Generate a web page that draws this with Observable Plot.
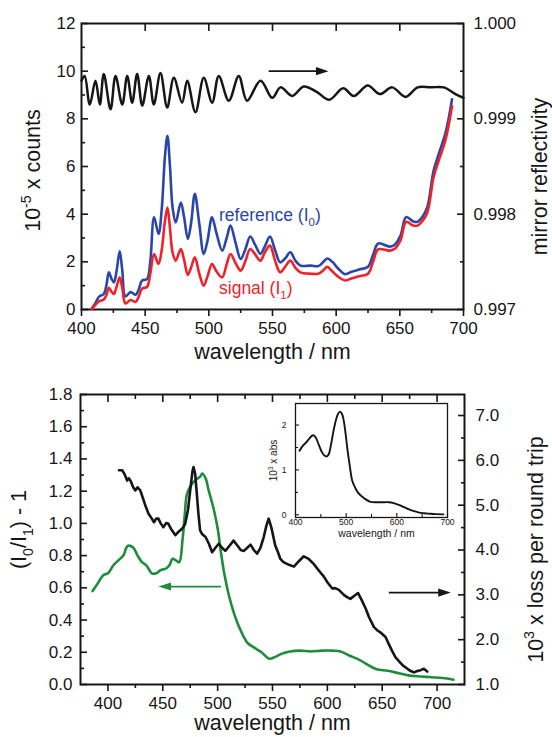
<!DOCTYPE html>
<html>
<head>
<meta charset="utf-8">
<script src="https://cdn.jsdelivr.net/npm/d3@7"></script>
<script src="https://cdn.jsdelivr.net/npm/@observablehq/plot@0.6"></script>
<style>
  html, body { margin: 0; padding: 0; background: #fff; }
  #wrap { position: relative; width: 552px; height: 737px; overflow: hidden; background: #fff; }
</style>
</head>
<body>
<div id="wrap"></div>
<script>
// ================= DATA =================
// --- top panel: counts (10^-5 x counts) vs wavelength (nm)
const countWavelength = [408, 411, 414, 417.5, 419.5, 421.5, 423.5, 425.5, 427.5, 430, 432, 434.5, 438.5, 442.5, 445, 447.5, 451.5, 454, 457, 460.5, 463, 465.5, 467.5, 469.5, 471.5, 474, 478, 480.5, 483.5, 486, 489, 492.5, 496, 499, 502.5, 506, 510.5, 514, 517, 521, 525, 528.5, 532.5, 536.5, 540.5, 544, 548, 552, 556, 560, 564, 568, 572, 580, 586, 590, 593, 597, 601, 607, 612, 618, 625, 629, 633, 642, 646, 650.5, 655, 660.5, 664, 667.5, 671.5, 676.5, 680.5, 686, 691];
const referenceCounts = [0.03, 0.28, 0.55, 0.65, 1.0, 1.56, 1.3, 1.14, 1.6, 2.44, 1.65, 0.55, 0.73, 0.62, 0.85, 1.21, 1.28, 2.0, 3.87, 3.17, 4.2, 6.4, 7.29, 6.0, 4.3, 3.65, 4.49, 3.9, 2.96, 3.6, 4.85, 3.6, 2.33, 2.9, 3.87, 3.2, 2.47, 3.0, 3.52, 2.8, 2.12, 2.5, 3.06, 2.7, 2.33, 2.65, 3.06, 2.5, 1.98, 2.15, 2.4, 2.05, 1.84, 1.84, 1.82, 2.0, 2.14, 2.0, 1.75, 1.48, 1.58, 1.68, 1.79, 2.3, 2.77, 2.64, 2.72, 3.1, 3.88, 3.69, 3.68, 3.87, 4.28, 5.82, 6.52, 7.43, 8.82];
const signalCounts = [0.03, 0.2, 0.35, 0.42, 0.6, 0.91, 0.75, 0.65, 0.95, 1.35, 0.9, 0.25, 0.4, 0.32, 0.55, 0.87, 0.95, 1.5, 2.33, 1.91, 2.5, 3.7, 4.28, 3.4, 2.4, 2.05, 2.54, 2.1, 1.45, 1.75, 2.19, 1.5, 1.0, 1.4, 1.91, 1.6, 1.35, 1.9, 2.33, 1.95, 1.63, 2.0, 2.54, 2.3, 2.05, 2.4, 2.68, 2.05, 1.56, 1.8, 2.05, 1.75, 1.56, 1.5, 1.5, 1.65, 1.79, 1.6, 1.4, 1.22, 1.3, 1.39, 1.5, 2.0, 2.52, 2.47, 2.55, 2.9, 3.68, 3.52, 3.52, 3.7, 4.05, 5.55, 6.24, 7.15, 8.54];

// --- top panel: mirror reflectivity vs wavelength
const mirrorWavelength = [400, 402.5, 406.5, 411, 414.4, 417.5, 422.8, 426.7, 432, 435.9, 439.8, 443.7, 447.7, 452.9, 456.8, 462, 467.3, 472.5, 479, 483, 489.5, 496, 502.6, 507.8, 515.7, 523.5, 530, 540.6, 549.8, 556.3, 565.5, 574.6, 585, 594.5, 605.5, 613.8, 624.8, 634.4, 644, 654.5, 664, 674, 684.6, 693.7, 700];
const mirrorReflectivity = [0.99940, 0.99945, 0.99915, 0.99940, 0.99915, 0.99947, 0.99910, 0.99945, 0.99915, 0.99945, 0.99917, 0.99947, 0.99914, 0.99945, 0.99915, 0.99948, 0.99912, 0.99943, 0.99917, 0.99940, 0.99907, 0.99943, 0.99917, 0.99945, 0.99919, 0.99945, 0.99919, 0.99940, 0.99922, 0.99933, 0.99924, 0.99934, 0.99928, 0.99920, 0.99932, 0.99924, 0.99935, 0.99926, 0.99933, 0.99923, 0.99933, 0.99933, 0.99933, 0.99926, 0.99922];

// --- bottom panel: (I0/I1) - 1 vs wavelength
const ratioWavelength = [386, 390, 396, 400, 405, 411, 414, 418, 423, 427, 431, 435, 440, 444, 448, 453, 456, 459, 462, 465, 468, 470, 472, 476, 480, 484, 486, 489, 492, 496, 500, 503, 506, 510, 515, 520, 527, 533, 540, 547, 552, 558, 566, 575, 585, 595, 605, 612, 620, 630, 640, 645, 655, 665, 675, 685, 695, 705, 715];
const ratioValue = [0.58, 0.62, 0.68, 0.69, 0.74, 0.78, 0.80, 0.86, 0.85, 0.80, 0.76, 0.74, 0.69, 0.69, 0.71, 0.72, 0.74, 0.78, 0.77, 0.76, 0.90, 1.05, 1.18, 1.24, 1.27, 1.29, 1.31, 1.28, 1.20, 1.10, 0.97, 0.82, 0.69, 0.56, 0.44, 0.35, 0.26, 0.23, 0.20, 0.16, 0.17, 0.19, 0.205, 0.21, 0.205, 0.21, 0.21, 0.205, 0.18, 0.15, 0.11, 0.095, 0.085, 0.07, 0.055, 0.05, 0.045, 0.04, 0.03];

// --- bottom panel: 10^3 x loss per round trip vs wavelength
const lossWavelength = [410, 413, 415, 417.5, 419, 420.5, 423, 425, 427, 429.5, 432, 434, 437, 440, 442, 444, 446, 448, 450.5, 453, 455, 458, 461.5, 464, 466, 468.5, 470.5, 473, 475, 477, 478, 479.5, 481, 482.5, 484, 486, 489, 492, 495, 498, 501, 504, 507, 511, 514.5, 518, 521, 524, 527, 530, 533, 536, 539, 542, 544.5, 546.5, 549, 552.5, 555, 557, 560, 565, 569.5, 574, 578.5, 583, 587.5, 592, 597, 600, 604.5, 607, 610.5, 615, 618, 621, 624, 628, 631, 635, 638, 642.5, 646, 649, 653, 656, 659, 662, 666, 669, 673, 676, 679, 682, 685, 688, 691];
const lossValue = [5.78, 5.78, 5.7, 5.55, 5.6, 5.55, 5.4, 5.33, 5.4, 5.33, 5.15, 5.0, 4.81, 4.7, 4.62, 4.7, 4.7, 4.6, 4.51, 4.6, 4.59, 4.45, 4.33, 4.4, 4.44, 4.5, 4.59, 4.9, 5.33, 5.75, 5.85, 5.7, 5.26, 4.8, 4.44, 4.35, 4.29, 4.14, 3.95, 4.05, 4.14, 4.05, 3.98, 4.1, 4.21, 4.1, 4.0, 3.98, 4.05, 4.12, 4.0, 3.92, 4.05, 4.29, 4.55, 4.7, 4.5, 4.1, 3.95, 3.81, 3.73, 3.67, 3.63, 3.75, 3.86, 3.8, 3.69, 3.55, 3.4, 3.28, 3.14, 3.15, 3.11, 3.0, 2.95, 2.91, 2.97, 3.04, 2.9, 2.69, 2.5, 2.28, 2.2, 2.15, 2.06, 1.9, 1.75, 1.61, 1.5, 1.42, 1.35, 1.3, 1.27, 1.3, 1.32, 1.35, 1.29];

// --- inset: 10^3 x abs vs wavelength
const absWavelength = [408, 414, 420, 426, 432, 436, 440, 446, 452, 457, 462, 466, 470, 475, 480, 484, 488, 492, 495, 499, 502, 507, 512, 518, 523, 530, 538, 548, 560, 572, 584, 594, 604, 614, 624, 634, 644, 654, 664, 676, 692];
const absValue = [1.43, 1.53, 1.6, 1.68, 1.76, 1.77, 1.72, 1.56, 1.4, 1.32, 1.3, 1.36, 1.56, 1.87, 2.12, 2.25, 2.3, 2.24, 2.11, 1.8, 1.5, 1.1, 0.76, 0.6, 0.5, 0.42, 0.35, 0.29, 0.28, 0.28, 0.28, 0.26, 0.22, 0.17, 0.12, 0.08, 0.05, 0.035, 0.025, 0.015, 0.01];

// --- tick values
const topXMajor = [400, 450, 500, 550, 600, 650, 700];
const topXMinor = [425, 475, 525, 575, 625, 675];
const topXTopTicks = [450, 500, 550, 600, 650];
const countMajor = [0, 2, 4, 6, 8, 10, 12];
const countMinor = [1, 3, 5, 7, 9, 11];
const reflMajor = [0.997, 0.998, 0.999, 1.000];
const reflMinor = [0.9975, 0.9985, 0.9995];
const botXMajor = [400, 450, 500, 550, 600, 650, 700];
const botXMinor = [425, 475, 525, 575, 625, 675];
const ratioMajor = [0, 0.2, 0.4, 0.6, 0.8, 1.0, 1.2, 1.4, 1.6, 1.8];
const ratioMinor = [0.1, 0.3, 0.5, 0.7, 0.9, 1.1, 1.3, 1.5, 1.7];
const lossMajor = [1, 2, 3, 4, 5, 6, 7];
const lossMinor = [1.5, 2.5, 3.5, 4.5, 5.5, 6.5];
const insetXMajor = [400, 500, 600, 700];
const insetXMinor = [450, 550, 650];
const insetYMajor = [0, 1, 2];
const insetYMinor = [0.5, 1.5];

// --- annotations (series labels and arrows)
const seriesLabels = [
  {text: "reference (I_{0})", wl: 508, counts: 3.94},
  {text: "signal (I_{1})", wl: 508, counts: 0.88}
];
const topArrow = {from: [547], to: [594], at: [10]};
const ratioArrow = {from: [503], to: [446], at: [0.608]};
const lossArrow = {from: [656], to: [712.5], at: [3.05]};

// ================= STYLE =================
const FONT = "'Liberation Sans', Arial, Helvetica, sans-serif";
const INK = "#161616";
const BLUE = "#2b46a8";
const RED = "#ee2229";
const GREEN = "#1f8c3c";
const TICK = 17;
const TITLE = 21.5;

// secondary-axis conversions
const reflToCounts = r => (r - 0.997) * 4000;
const countsToRefl = c => 0.997 + c / 4000;
const LOSS_PER_RATIO = 3.594;
const lossToRatio = L => (L - 1) / LOSS_PER_RATIO;
const ratioToLoss = v => 1 + v * LOSS_PER_RATIO;

const blank = () => "";
const headRight = {draw(ctx, size) { const r = Math.sqrt(size / Math.PI); ctx.moveTo(0, 0); ctx.lineTo(-2.1 * r, -0.68 * r); ctx.lineTo(-2.1 * r, 0.68 * r); ctx.closePath(); }};
const headLeft = {draw(ctx, size) { const r = Math.sqrt(size / Math.PI); ctx.moveTo(0, 0); ctx.lineTo(2.1 * r, -0.68 * r); ctx.lineTo(2.1 * r, 0.68 * r); ctx.closePath(); }};

function arrowMarks(a, head, yMap, color, back) {
  const ys = a.at.map(yMap);
  return [
    Plot.link([0], {x1: a.from, x2: a.to.map(t => t + back), y1: ys, y2: ys, stroke: color, strokeWidth: 1.8}),
    Plot.dot([0], {x: a.to, y: ys, symbol: head, r: 6, fill: color, stroke: "none"})
  ];
}
// centred axis title positioned relative to the frame
function title(str, anchor, dx, dy, size, rotate) {
  return Plot.text([str], {text: d => d, frameAnchor: anchor, dx, dy, rotate: rotate || 0,
    textAnchor: "middle", lineAnchor: "middle", fontSize: size, fill: INK});
}

const baseStyle = {fontFamily: FONT, fontSize: TICK + "px", color: INK, background: "transparent", overflow: "visible"};

// ================= TOP PANEL =================
const topPlot = Plot.plot({
  width: 552, height: 370,
  marginLeft: 81, marginRight: 89, marginTop: 23, marginBottom: 61,
  x: {domain: [400, 700]},
  y: {domain: [0, 12]},
  style: baseStyle,
  marks: [
    Plot.axisX({ticks: topXMajor, tickSize: 7, tickPadding: 5, strokeWidth: 1.6, tickFormat: d => String(d), label: null, fontSize: TICK}),
    Plot.axisX({ticks: topXMinor, tickSize: 4, strokeWidth: 1.6, tickFormat: blank, label: null}),
    Plot.axisX({anchor: "top", ticks: topXTopTicks, tickSize: -7, strokeWidth: 1.6, tickFormat: blank, label: null}),
    Plot.axisY({ticks: countMajor, tickSize: -7, tickPadding: 13, strokeWidth: 1.6, tickFormat: d => String(d), label: null, fontSize: TICK}),
    Plot.axisY({ticks: countMinor, tickSize: -4, strokeWidth: 1.6, tickFormat: blank, label: null}),
    Plot.axisY({anchor: "right", ticks: reflMajor.map(reflToCounts), tickSize: -7, tickPadding: 17, strokeWidth: 1.6,
      tickFormat: d => countsToRefl(d).toFixed(3), label: null, fontSize: TICK}),
    Plot.axisY({anchor: "right", ticks: reflMinor.map(reflToCounts), tickSize: -4, strokeWidth: 1.6, tickFormat: blank, label: null}),
    Plot.frame({stroke: INK, strokeWidth: 2}),
    Plot.line(mirrorReflectivity, {x: mirrorWavelength, y: mirrorReflectivity.map(reflToCounts), stroke: INK, strokeWidth: 2.5, curve: "catmull-rom"}),
    Plot.line(referenceCounts, {x: countWavelength, y: referenceCounts, stroke: BLUE, strokeWidth: 2.6, curve: "catmull-rom", strokeLinejoin: "round"}),
    Plot.line(signalCounts, {x: countWavelength, y: signalCounts, stroke: RED, strokeWidth: 2.6, curve: "catmull-rom", strokeLinejoin: "round"}),
    ...arrowMarks(topArrow, headRight, d => d, INK, -4),
    Plot.text([seriesLabels[0]], {x: "wl", y: "counts", text: "text", fill: BLUE, textAnchor: "start", lineAnchor: "middle", fontSize: 17.5}),
    Plot.text([seriesLabels[1]], {x: "wl", y: "counts", text: "text", fill: RED, textAnchor: "start", lineAnchor: "middle", fontSize: 17.5}),
    title("wavelength / nm", "bottom", 0, 43, TITLE),
    title("10^{-5} x counts", "left", -48, 4, TITLE, -90),
    title("mirror reflectivity", "right", 77, 10, TITLE, -90)
  ]
});

// ================= BOTTOM PANEL =================
const bottomPlot = Plot.plot({
  width: 552, height: 367,
  marginLeft: 80, marginRight: 88, marginTop: 24, marginBottom: 53,
  x: {domain: [375, 725]},
  y: {domain: [0, 1.8]},
  style: baseStyle,
  marks: [
    Plot.axisX({ticks: botXMajor, tickSize: 7, tickPadding: 5, strokeWidth: 1.6, tickFormat: d => String(d), label: null, fontSize: TICK}),
    Plot.axisX({ticks: botXMinor, tickSize: 4, strokeWidth: 1.6, tickFormat: blank, label: null}),
    Plot.axisX({anchor: "top", ticks: botXMajor, tickSize: -7, strokeWidth: 1.6, tickFormat: blank, label: null}),
    Plot.axisX({anchor: "top", ticks: botXMinor, tickSize: -4, strokeWidth: 1.6, tickFormat: blank, label: null}),
    Plot.axisY({ticks: ratioMajor, tickSize: -7, tickPadding: 15, strokeWidth: 1.6, tickFormat: d => d.toFixed(1), label: null, fontSize: TICK}),
    Plot.axisY({ticks: ratioMinor, tickSize: -4, strokeWidth: 1.6, tickFormat: blank, label: null}),
    Plot.axisY({anchor: "right", ticks: lossMajor.map(lossToRatio), tickSize: -7, tickPadding: 18, strokeWidth: 1.6,
      tickFormat: d => ratioToLoss(d).toFixed(1), label: null, fontSize: TICK}),
    Plot.axisY({anchor: "right", ticks: lossMinor.map(lossToRatio), tickSize: -4, strokeWidth: 1.6, tickFormat: blank, label: null}),
    Plot.frame({stroke: INK, strokeWidth: 2}),
    Plot.line(ratioValue, {x: ratioWavelength, y: ratioValue, stroke: GREEN, strokeWidth: 2.6, curve: "catmull-rom", strokeLinejoin: "round"}),
    Plot.line(lossValue, {x: lossWavelength, y: lossValue.map(lossToRatio), stroke: INK, strokeWidth: 2.6, strokeLinejoin: "round"}),
    ...arrowMarks(ratioArrow, headLeft, d => d, GREEN, 4),
    ...arrowMarks(lossArrow, headRight, lossToRatio, INK, -4),
    title("wavelength / nm", "bottom", 0, 39, TITLE),
    title("(I_{0}/I_{1}) - 1", "left", -61, -10, TITLE, -90),
    title("10^{3} x loss per round trip", "right", 72, 10, TITLE, -90)
  ]
});

// ================= INSET =================
const insetPlot = Plot.plot({
  width: 195, height: 145,
  marginLeft: 33, marginRight: 10, marginTop: 8, marginBottom: 23,
  x: {domain: [400, 700]},
  y: {domain: [-0.06, 2.48]},
  style: {...baseStyle, fontSize: "8.5px"},
  marks: [
    Plot.axisX({ticks: insetXMajor, tickSize: -4, tickPadding: 5, strokeWidth: 1.1, tickFormat: d => String(d), label: null, fontSize: 8.5}),
    Plot.axisX({ticks: insetXMinor, tickSize: -3, strokeWidth: 1.1, tickFormat: blank, label: null}),
    Plot.axisY({ticks: insetYMajor, tickSize: -4, tickPadding: 13, strokeWidth: 1.1, tickFormat: d => String(d), label: null, fontSize: 8.5}),
    Plot.axisY({ticks: insetYMinor, tickSize: -3, strokeWidth: 1.1, tickFormat: blank, label: null}),
    Plot.frame({stroke: INK, strokeWidth: 1.3}),
    Plot.line(absValue, {x: absWavelength, y: absValue, stroke: INK, strokeWidth: 1.9, curve: "catmull-rom"}),
    title("wavelength / nm", "bottom", 5, 16.5, 10.5),
    title("10^{3} x abs", "left", -22, 0, 10, -90)
  ]
});

// ================= LAYOUT =================
const wrap = document.getElementById("wrap");
function place(svg, left, top) {
  svg.style.position = "absolute";
  svg.style.left = left + "px";
  svg.style.top = top + "px";
  svg.style.maxWidth = "none";
  wrap.appendChild(svg);
}
place(topPlot, 0, 0);
place(bottomPlot, 0, 370);
place(insetPlot, 262, 395);

// super/subscript markup  ^{..}  _{..}  -> tspans
function richify(root) {
  root.querySelectorAll("text").forEach(t => {
    if (t.children.length) return;
    const s = t.textContent;
    if (!/[\^_]\{/.test(s)) return;
    const fs = parseFloat(getComputedStyle(t).fontSize) || 16;
    t.textContent = "";
    let shift = 0;
    const add = (str, kind) => {
      const ts = document.createElementNS("http://www.w3.org/2000/svg", "tspan");
      const target = kind === "^" ? -0.42 * fs : kind === "_" ? 0.3 * fs : 0;
      if (target !== shift) { ts.setAttribute("dy", (target - shift).toFixed(2)); shift = target; }
      if (kind) ts.setAttribute("font-size", (0.66 * fs).toFixed(2));
      ts.textContent = str;
      t.appendChild(ts);
    };
    const re = /([\^_])\{([^}]*)\}/g;
    let last = 0, m;
    while ((m = re.exec(s))) {
      if (m.index > last) add(s.slice(last, m.index), null);
      add(m[2], m[1]);
      last = re.lastIndex;
    }
    if (last < s.length) add(s.slice(last), null);
  });
}
richify(wrap);
</script>
</body>
</html>
